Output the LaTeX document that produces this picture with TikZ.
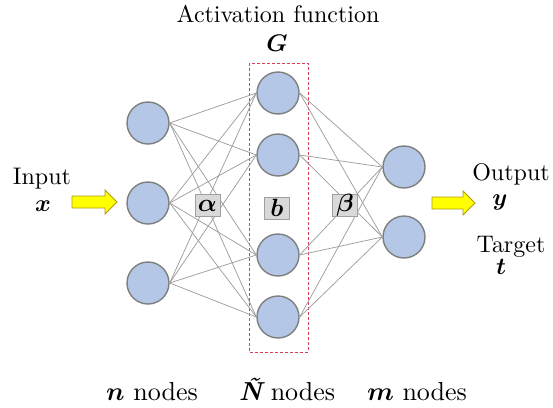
\RequirePackage{fix-cm}
\documentclass[tikz,border=0pt]{standalone}
\usepackage{amsmath,bm}
\usepackage{fontspec}
\setmainfont{lmroman10-regular}[Extension=.otf,BoldFont=lmroman10-bold,ItalicFont=lmroman10-italic,BoldItalicFont=lmroman10-bolditalic]
\definecolor{nodefill}{HTML}{B4C7E7}
\definecolor{nodeline}{HTML}{7F7F7F}
\definecolor{wire}{HTML}{9E9E9E}
\definecolor{lblfill}{HTML}{D9D9D9}
\definecolor{lblline}{HTML}{A0A0A0}
\definecolor{boxred}{HTML}{D8405A}
\definecolor{arrfill}{HTML}{FFFF00}
\definecolor{arrline}{HTML}{B09A10}
\begin{document}
\begin{tikzpicture}[x=1pt,y=-1pt,
  neuron/.style={circle,fill=nodefill,draw=nodeline,line width=1.4pt,minimum size=42pt,inner sep=0pt},
  wireline/.style={draw=wire,line width=0.75pt},
  lblbox/.style={rectangle,fill=lblfill,draw=lblline,line width=0.8pt,minimum width=25pt,minimum height=22pt,inner sep=0pt,font=\fontsize{25}{28}\selectfont},
  yarrow/.style={fill=arrfill,draw=arrline,line width=0.8pt,line join=miter},
  txt/.style={anchor=base,inner sep=0pt,font=\fontsize{24}{28}\selectfont},
  mtxt/.style={anchor=base,inner sep=0pt,font=\fontsize{24}{28}\selectfont},
  bottxt/.style={anchor=base,inner sep=0pt,font=\fontsize{26}{30}\selectfont}
]
\useasboundingbox (0,0) rectangle (553,407);
% dashed hidden-layer box
\draw[boxred,dashed,dash pattern=on 3pt off 2pt,line width=0.8pt] (249,63) rectangle (308,352);
% neurons
\node[neuron] (i1) at (148,123) {};
\node[neuron] (i2) at (148,203) {};
\node[neuron] (i3) at (148,283) {};
\node[neuron] (h1) at (278,93) {};
\node[neuron] (h2) at (278,155) {};
\node[neuron] (h3) at (278,255) {};
\node[neuron] (h4) at (278,317) {};
\node[neuron] (o1) at (404,167) {};
\node[neuron] (o2) at (404,237) {};
% connections
\foreach \i in {1,2,3}{\foreach \h in {1,2,3,4}{\draw[wireline] (i\i.east) -- (h\h.west);}}
\foreach \h in {1,2,3,4}{\foreach \o in {1,2}{\draw[wireline] (h\h.east) -- (o\o.west);}}
% weight labels
\node[lblbox] (alpha) at (207.5,205.5) {$\bm{\alpha}$};
\node[lblbox] (bias) at (277,208) {$\bm{b}$};
\node[lblbox] (beta) at (345,205.5) {$\bm{\beta}$};
% arrows
\draw[yarrow] (72,196) -- (105,196) -- (105,190) -- (117,202) -- (105,214) -- (105,208) -- (72,208) -- cycle;
\draw[yarrow] (432,197) -- (463,197) -- (463,191) -- (475,203) -- (463,215) -- (463,209) -- (432,209) -- cycle;
% texts
\node[txt] (act) at (278,22) {Activation function};
\node[mtxt] (G) at (277,51) {$\bm{G}$};
\node[txt] (inp) at (42,184) {Input};
\node[mtxt] (xv) at (43,211) {$\bm{x}$};
\node[txt] (outp) at (511,180) {Output};
\node[mtxt] (yv) at (500,205) {$\bm{y}$};
\node[txt] (targ) at (511,252) {Target};
\node[mtxt] (tv) at (501,274) {$\bm{t}$};
\node[bottxt] (nn) at (152,400) {$\bm{n}$ nodes};
\node[bottxt] (nN) at (287,400) {{\bfseries\itshape Ñ} nodes};
\node[bottxt] (nm) at (417,400) {$\bm{m}$ nodes};
\end{tikzpicture}
\end{document}
